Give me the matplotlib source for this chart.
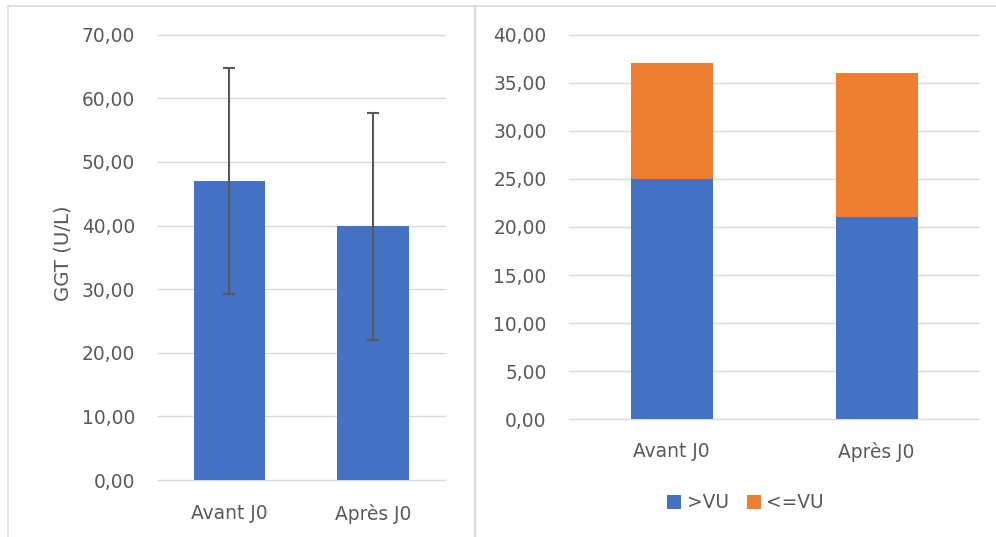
import matplotlib
matplotlib.use("Agg")
import matplotlib.pyplot as plt
from matplotlib.patches import Patch
from matplotlib.lines import Line2D
from matplotlib.ticker import FuncFormatter, MultipleLocator

# Data
categories = ["Avant J0", "Après J0"]
ggt_mean = [47.0, 39.85]
ggt_sd = [17.8, 17.85]
above_vu = [25, 21]
below_vu = [12, 15]
series_labels = [">VU", "<=VU"]

BLUE = "#4472C4"
ORANGE = "#ED7D31"
GRID = "#D9D9D9"
TEXT = "#595959"
FS = 13.4

plt.rcParams["font.family"] = ["DejaVu Sans"]

W, H = 996, 537
fig = plt.figure(figsize=(W / 100, H / 100), dpi=100)
fig.patch.set_facecolor("white")


def px_axes(x0, x1, ytop, ybot):
    return fig.add_axes([x0 / W, 1 - ybot / H, (x1 - x0) / W, (ybot - ytop) / H])


comma_fmt = FuncFormatter(lambda v, p: f"{v:.2f}".replace(".", ","))


def style(ax, ymax, step, xpad):
    ax.set_ylim(0, ymax)
    ax.set_xlim(-0.5, len(categories) - 0.5)
    ax.yaxis.set_major_locator(MultipleLocator(step))
    ax.yaxis.set_major_formatter(comma_fmt)
    ax.grid(axis="y", color=GRID, linewidth=1.0, zorder=0)
    ax.set_axisbelow(True)
    for s in ax.spines.values():
        s.set_visible(False)
    ax.tick_params(axis="y", length=0, pad=16.2, labelsize=FS, labelcolor=TEXT)
    ax.tick_params(axis="x", length=0, pad=xpad, labelsize=FS, labelcolor=TEXT)
    ax.set_xticks(range(len(categories)))
    ax.set_xticklabels(categories)
    for gl in ax.get_ygridlines():
        gl.set_clip_on(False)


# Left panel: mean GGT with standard deviation
ax1 = px_axes(157.7, 444.7, 34.6, 480.1)
x = list(range(len(categories)))
ax1.bar(x, ggt_mean, width=0.5, color=BLUE, zorder=2)
ax1.errorbar(x, ggt_mean, yerr=ggt_sd, fmt="none", ecolor=TEXT,
             elinewidth=1.5, capsize=4.2, capthick=1.5, zorder=3)
style(ax1, 70, 10, 17.0)
fig.text(63.3 / W, 1 - 253.3 / H, "GGT (U/L)", rotation=90, ha="center",
         va="center", fontsize=14.2, color=TEXT)

# Right panel: stacked counts
ax2 = px_axes(569, 979, 34.6, 419.3)
ax2.bar(x, above_vu, width=0.4, color=BLUE, zorder=2)
ax2.bar(x, below_vu, width=0.4, bottom=above_vu, color=ORANGE, zorder=2)
style(ax2, 40, 5, 16.5)

handles = [Patch(facecolor=BLUE, edgecolor="none"),
           Patch(facecolor=ORANGE, edgecolor="none")]
fig.legend(handles, series_labels, loc="center", ncol=2, frameon=False,
           bbox_to_anchor=(745.7 / W, 1 - 503 / H), fontsize=FS,
           labelcolor=TEXT, handlelength=0.74, handleheight=0.74,
           handletextpad=0.31, columnspacing=0.97)

# Chart frames
frame_kw = dict(color=GRID, linewidth=1.1, transform=None)
fig.add_artist(Line2D([7.5, W], [H - 5.8, H - 5.8], **frame_kw))
fig.add_artist(Line2D([7.5, 7.5], [0, H - 5.8], **frame_kw))
fig.add_artist(Line2D([474.5, 474.5], [0, H - 5.8], color=GRID,
                      linewidth=1.7, transform=None))

fig.savefig("out.png", dpi=100, facecolor="white")
